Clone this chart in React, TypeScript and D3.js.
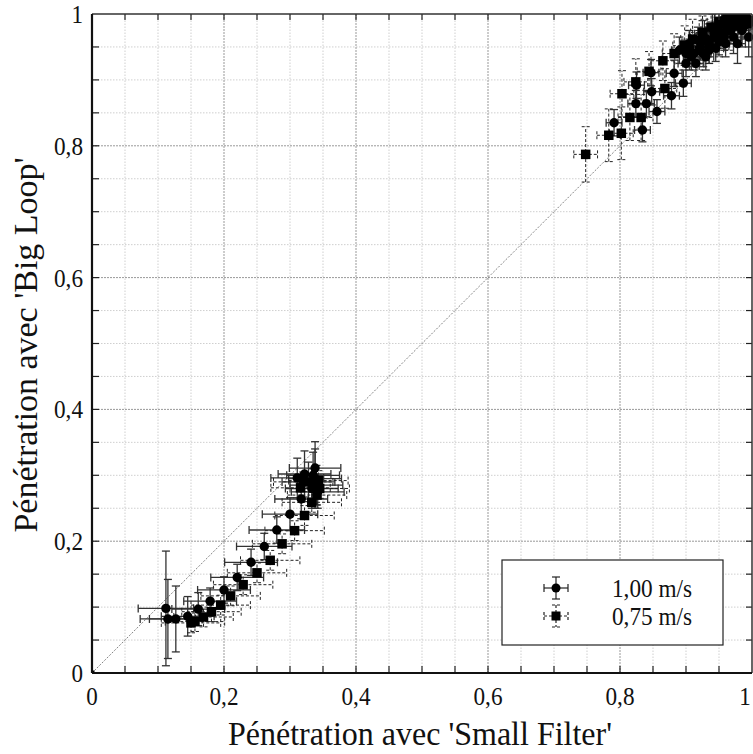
import React from "react";
import * as d3 from "d3";

const majorTicks = [0, 0.2, 0.4, 0.6, 0.8, 1];
const majorLabels = ["0", "0,2", "0,4", "0,6", "0,8", "1"];
const minorTicks = [0.05, 0.1, 0.15, 0.25, 0.3, 0.35, 0.45, 0.5, 0.55, 0.65, 0.7, 0.75, 0.85, 0.9, 0.95];

const xTitle = "Pénétration avec 'Small Filter'";
const yTitle = "Pénétration avec 'Big Loop'";
const seriesNames = ["1,00 m/s", "0,75 m/s"];

// [x, y, xErr, yErr]  — 1,00 m/s (circles)
const circles: number[][] = [
  [0.112, 0.098, 0.042, 0.087],
  [0.115, 0.082, 0.042, 0.06],
  [0.127, 0.082, 0.04, 0.05],
  [0.145, 0.086, 0.04, 0.03],
  [0.161, 0.097, 0.04, 0.025],
  [0.179, 0.109, 0.04, 0.02],
  [0.2, 0.126, 0.04, 0.02],
  [0.22, 0.145, 0.04, 0.02],
  [0.241, 0.168, 0.04, 0.02],
  [0.261, 0.192, 0.042, 0.02],
  [0.28, 0.217, 0.042, 0.02],
  [0.3, 0.241, 0.042, 0.025],
  [0.317, 0.264, 0.04, 0.03],
  [0.311, 0.296, 0.04, 0.03],
  [0.322, 0.302, 0.04, 0.035],
  [0.338, 0.311, 0.039, 0.04],
  [0.328, 0.29, 0.04, 0.03],
  [0.335, 0.3, 0.04, 0.035],
  [0.34, 0.285, 0.04, 0.03],
  [0.342, 0.275, 0.04, 0.025],
  [0.333, 0.28, 0.04, 0.03],
  [0.338, 0.295, 0.04, 0.045],
  [0.791, 0.835, 0.012, 0.02],
  [0.834, 0.824, 0.012, 0.018],
  [0.824, 0.864, 0.012, 0.02],
  [0.84, 0.864, 0.012, 0.02],
  [0.848, 0.882, 0.012, 0.02],
  [0.856, 0.852, 0.012, 0.018],
  [0.878, 0.876, 0.012, 0.02],
  [0.896, 0.895, 0.012, 0.02],
  [0.847, 0.911, 0.012, 0.02],
  [0.882, 0.91, 0.012, 0.02],
  [0.9, 0.925, 0.012, 0.02],
  [0.825, 0.892, 0.012, 0.02],
  [0.912, 0.94, 0.012, 0.02],
  [0.922, 0.95, 0.012, 0.02],
  [0.932, 0.958, 0.012, 0.02],
  [0.942, 0.965, 0.012, 0.02],
  [0.952, 0.972, 0.012, 0.02],
  [0.962, 0.98, 0.012, 0.02],
  [0.972, 0.986, 0.012, 0.02],
  [0.982, 0.99, 0.012, 0.02],
  [0.992, 0.995, 0.012, 0.02],
  [0.915, 0.925, 0.012, 0.02],
  [0.93, 0.935, 0.012, 0.02],
  [0.945, 0.948, 0.012, 0.02],
  [0.96, 0.955, 0.012, 0.02],
  [0.972, 0.965, 0.012, 0.025],
  [0.985, 0.975, 0.012, 0.025],
  [0.995, 0.985, 0.012, 0.02],
  [0.94, 0.98, 0.012, 0.02],
  [0.955, 0.99, 0.012, 0.02],
  [0.966, 0.995, 0.012, 0.02],
  [0.925, 0.97, 0.012, 0.02],
  [0.905, 0.955, 0.012, 0.02],
  [0.89, 0.945, 0.012, 0.02],
  [0.908, 0.935, 0.012, 0.02],
  [0.918, 0.96, 0.012, 0.02],
  [0.935, 0.945, 0.012, 0.02],
  [0.948, 0.975, 0.012, 0.02],
  [0.958, 0.965, 0.012, 0.02],
  [0.968, 0.975, 0.012, 0.02],
  [0.978, 0.995, 0.012, 0.02],
  [0.988, 0.982, 0.012, 0.02],
  [0.978, 0.955, 0.012, 0.03],
  [0.995, 0.965, 0.012, 0.03],
  [0.9, 0.94, 0.012, 0.02],
  [0.926, 0.94, 0.012, 0.02],
  [0.95, 0.958, 0.012, 0.02],
  [0.965, 0.985, 0.012, 0.02],
];

// [x, y, xErr, yErr]  — 0,75 m/s (squares)
const squares: number[][] = [
  [0.0, 0.0, 0.0, 0.0],
  [0.15, 0.076, 0.045, 0.015],
  [0.156, 0.078, 0.045, 0.015],
  [0.169, 0.085, 0.045, 0.015],
  [0.181, 0.093, 0.045, 0.015],
  [0.195, 0.103, 0.045, 0.015],
  [0.21, 0.117, 0.045, 0.015],
  [0.229, 0.134, 0.045, 0.015],
  [0.25, 0.152, 0.045, 0.015],
  [0.27, 0.171, 0.045, 0.015],
  [0.288, 0.196, 0.045, 0.015],
  [0.307, 0.216, 0.045, 0.015],
  [0.322, 0.239, 0.045, 0.015],
  [0.333, 0.259, 0.045, 0.015],
  [0.316, 0.281, 0.045, 0.015],
  [0.341, 0.27, 0.045, 0.015],
  [0.345, 0.28, 0.045, 0.015],
  [0.343, 0.292, 0.045, 0.015],
  [0.32, 0.29, 0.045, 0.015],
  [0.748, 0.787, 0.018, 0.042],
  [0.783, 0.816, 0.018, 0.04],
  [0.802, 0.819, 0.018, 0.04],
  [0.815, 0.843, 0.018, 0.035],
  [0.832, 0.843, 0.018, 0.035],
  [0.803, 0.879, 0.018, 0.035],
  [0.824, 0.897, 0.018, 0.035],
  [0.868, 0.887, 0.018, 0.03],
  [0.844, 0.913, 0.018, 0.03],
  [0.865, 0.929, 0.018, 0.03],
  [0.882, 0.94, 0.018, 0.03],
  [0.898, 0.952, 0.018, 0.03],
  [0.91, 0.962, 0.018, 0.03],
  [0.925, 0.972, 0.018, 0.025],
  [0.938, 0.98, 0.018, 0.025],
  [0.95, 0.988, 0.018, 0.025],
  [0.962, 0.994, 0.018, 0.02],
  [0.975, 0.998, 0.018, 0.02],
  [0.988, 0.998, 0.018, 0.02],
  [0.92, 0.945, 0.018, 0.03],
  [0.935, 0.955, 0.018, 0.03],
  [0.95, 0.965, 0.018, 0.03],
  [0.965, 0.975, 0.018, 0.03],
  [0.98, 0.982, 0.018, 0.03],
  [0.995, 0.99, 0.018, 0.025],
  [0.905, 0.945, 0.018, 0.03],
  [0.928, 0.962, 0.018, 0.03],
  [0.943, 0.972, 0.018, 0.03],
  [0.958, 0.985, 0.018, 0.025],
  [0.972, 0.99, 0.018, 0.025],
];

const W = 753;
const H = 754;
const FONT = '"Liberation Serif", "Times New Roman", serif';

export default function App() {
  const x = d3.scaleLinear().domain([0, 1]).range([92, 752]);
  const y = d3.scaleLinear().domain([0, 1]).range([673, 14]);
  const cap = 4;

  const errBars = (d: number[], i: number, dashed: boolean) => {
    const [vx, vy, ex, ey] = d;
    if (ex === 0 && ey === 0) return null;
    const cx = x(vx), cy = y(vy);
    const x0 = x(vx - ex), x1 = x(Math.min(vx + ex, 1.02));
    const y0 = y(vy - ey), y1 = y(Math.min(vy + ey, 1.02));
    const style = {
      stroke: dashed ? "#222" : "#333",
      strokeWidth: dashed ? 1 : 1.3,
      strokeDasharray: dashed ? "3,2" : undefined,
      fill: "none",
    } as any;
    return (
      <g key={i} style={style}>
        <line x1={x0} x2={x1} y1={cy} y2={cy} />
        <line x1={x0} x2={x0} y1={cy - cap} y2={cy + cap} />
        <line x1={x1} x2={x1} y1={cy - cap} y2={cy + cap} />
        <line x1={cx} x2={cx} y1={y0} y2={y1} />
        <line x1={cx - cap} x2={cx + cap} y1={y0} y2={y0} />
        <line x1={cx - cap} x2={cx + cap} y1={y1} y2={y1} />
      </g>
    );
  };

  const txt = { fontFamily: FONT } as any;
  const labelW = (s: string) => (s.length === 1 ? 11.5 : 29);
  const legendW = 80;

  return (
    <svg width={W} height={H} fontFamily="Liberation Serif" style={{ position: "absolute", left: 0, top: 0, background: "#fff", fontFamily: FONT }}>
      <defs>
        <clipPath id="plotclip">
          <rect x={92} y={14} width={661} height={660} />
        </clipPath>
      </defs>
      <rect x={0} y={0} width={W} height={H} fill="#fff" />
      {/* grid */}
      <g>
        {minorTicks.map((t) => (
          <g key={"m" + t}>
            <line x1={x(t)} x2={x(t)} y1={y(0)} y2={y(1)} stroke="#cfcfcf" strokeWidth={1} strokeDasharray="1.5,1.5" />
            <line x1={x(0)} x2={x(1)} y1={y(t)} y2={y(t)} stroke="#cfcfcf" strokeWidth={1} strokeDasharray="1.5,1.5" />
          </g>
        ))}
        {majorTicks.slice(1, 5).map((t) => (
          <g key={"M" + t}>
            <line x1={x(t)} x2={x(t)} y1={y(0)} y2={y(1)} stroke="#999" strokeWidth={1} strokeDasharray="2,1" />
            <line x1={x(0)} x2={x(1)} y1={y(t)} y2={y(t)} stroke="#999" strokeWidth={1} strokeDasharray="2,1" />
          </g>
        ))}
      </g>
      {/* diagonal */}
      <line x1={x(0)} y1={y(0)} x2={x(1)} y2={y(1)} stroke="#666" strokeWidth={0.8} strokeDasharray="2,1.5" />
      <g clipPath="url(#plotclip)">
        {circles.map((d, i) => errBars(d, i, false))}
        {squares.map((d, i) => errBars(d, i, true))}
        {circles.map((d, i) => (
          <circle key={"c" + i} cx={x(d[0])} cy={y(d[1])} r={4.7} fill="#000" />
        ))}
        {squares.map((d, i) => {
          const s = i === 0 ? 5 : 9.5;
          return <rect key={"s" + i} x={x(d[0]) - s / 2} y={y(d[1]) - s / 2} width={s} height={s} fill="#000" />;
        })}
      </g>
      {/* ticks */}
      <g stroke="#222" strokeWidth={1.2}>
        {[...minorTicks, ...majorTicks.slice(1, 5)].map((t) => (
          <g key={"t" + t}>
            <line x1={x(t)} x2={x(t)} y1={y(0)} y2={y(0) - 7} />
            <line x1={x(t)} x2={x(t)} y1={y(1)} y2={y(1) + 6} />
            <line x1={x(0)} x2={x(0) + 7} y1={y(t)} y2={y(t)} />
            <line x1={x(1)} x2={x(1) - 6} y1={y(t)} y2={y(t)} />
          </g>
        ))}
      </g>
      {/* frame */}
      <line x1={x(0)} x2={x(1)} y1={y(1)} y2={y(1)} stroke="#333" strokeWidth={1.5} />
      <line x1={x(1)} x2={x(1)} y1={y(0)} y2={y(1)} stroke="#333" strokeWidth={1.5} />
      <line x1={x(0)} x2={x(1)} y1={y(0)} y2={y(0)} stroke="#111" strokeWidth={2.2} />
      <line x1={x(0)} x2={x(0)} y1={y(0)} y2={y(1)} stroke="#111" strokeWidth={2.2} />
      {/* tick labels */}
      {majorTicks.map((t, i) => (
        <text
          key={"xl" + t}
          x={i === 5 ? 745 : x(t)}
          y={705}
          textAnchor="middle"
          fontSize={26}
          fill="#111"
          fontFamily="Liberation Serif"
          style={txt}
          textLength={labelW(majorLabels[i])}
          lengthAdjust="spacingAndGlyphs"
        >
          {majorLabels[i]}
        </text>
      ))}
      {majorTicks.map((t, i) => (
        <text
          key={"yl" + t}
          x={83}
          y={y(t) + 9}
          textAnchor="end"
          fontSize={26}
          fill="#111"
          fontFamily="Liberation Serif"
          style={txt}
          textLength={labelW(majorLabels[i])}
          lengthAdjust="spacingAndGlyphs"
        >
          {majorLabels[i]}
        </text>
      ))}
      {/* axis titles */}
      <text x={420} y={745} textAnchor="middle" fontSize={33} fill="#111" fontFamily="Liberation Serif" style={txt} textLength={384} lengthAdjust="spacingAndGlyphs">
        {xTitle}
      </text>
      <text transform={`translate(37,345) rotate(-90)`} textAnchor="middle" fontSize={33} fill="#111" fontFamily="Liberation Serif" style={txt} textLength={375} lengthAdjust="spacingAndGlyphs">
        {yTitle}
      </text>
      {/* legend */}
      <g>
        <rect x={502} y={560} width={221} height={85} fill="#fff" stroke="#222" strokeWidth={1.2} />
        {[0, 1].map((k) => {
          const cx = 556;
          const cy = 588 + k * 28;
          const dashed = k === 1;
          const st = { stroke: "#222", strokeWidth: 1.2, strokeDasharray: dashed ? "3,2" : undefined } as any;
          return (
            <g key={"lg" + k}>
              <g style={st}>
                <line x1={cx - 12} x2={cx + 12} y1={cy} y2={cy} />
                <line x1={cx - 12} x2={cx - 12} y1={cy - 4} y2={cy + 4} />
                <line x1={cx + 12} x2={cx + 12} y1={cy - 4} y2={cy + 4} />
                <line x1={cx} x2={cx} y1={cy - 11} y2={cy + 11} />
                <line x1={cx - 4} x2={cx + 4} y1={cy - 11} y2={cy - 11} />
                <line x1={cx - 4} x2={cx + 4} y1={cy + 11} y2={cy + 11} />
              </g>
              {k === 0 ? (
                <circle cx={cx} cy={cy} r={4.5} fill="#000" />
              ) : (
                <rect x={cx - 4.5} y={cy - 4.5} width={9} height={9} fill="#000" />
              )}
              <text
                x={612}
                y={cy + 9}
                fontSize={26}
                fill="#111"
                fontFamily="Liberation Serif"
                style={txt}
                textLength={legendW}
                lengthAdjust="spacingAndGlyphs"
              >
                {seriesNames[k]}
              </text>
            </g>
          );
        })}
      </g>
    </svg>
  );
}
